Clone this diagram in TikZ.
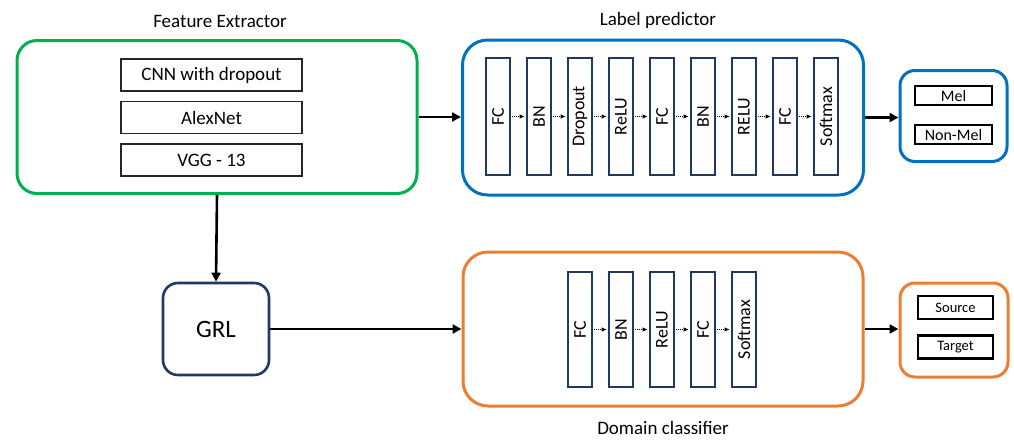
\documentclass[tikz,border=0pt]{standalone}
\usepackage{fontspec}
\setmainfont{Carlito}
\usetikzlibrary{arrows.meta}
\definecolor{fegreen}{HTML}{00B050}
\definecolor{lpblue}{HTML}{0070C0}
\definecolor{dcorange}{HTML}{ED7D31}
\definecolor{navy}{HTML}{203864}
\tikzset{
  outerbox/.style={draw, line width=3pt, rounded corners=20pt, fill=white},
  modelbox/.style={draw=black!85, line width=1.5pt, minimum width=181pt, minimum height=32pt, inner sep=0pt, font=\fontsize{19}{22}\selectfont},
  layerbox/.style={draw=navy, line width=2.6pt, rotate=90, inner sep=0pt, font=\fontsize{18}{21}\selectfont},
  classbox/.style={draw=black, line width=2.8pt, inner sep=0pt, font=\fontsize{14.5}{17}\selectfont},
  title/.style={font=\fontsize{19}{22}\selectfont, inner sep=0pt},
  mainarrow/.style={line width=2.6pt, -{Triangle[length=9pt,width=9pt]}},
  dotarrow/.style={line width=0.9pt, densely dotted, -{Latex[length=5pt,width=4.5pt]}, shorten >=1pt, shorten <=1pt}
}
\begin{document}
\begin{tikzpicture}[x=1pt,y=-1pt]
\useasboundingbox (0,0) rectangle (1014,439);

% titles
\node[title] (tfe) at (220,21) {Feature Extractor};
\node[title] (tlp) at (658,20) {Label predictor};
\node[title] (tdc) at (663,428) {Domain classifier};

% Feature extractor
\node[outerbox, draw=fegreen, minimum width=400pt, minimum height=153pt] (fe) at (217,117) {};
\node[modelbox] (m1) at (211.5,75) {CNN with dropout};
\node[modelbox] (m2) at (211.5,117.5) {AlexNet};
\node[modelbox] (m3) at (211.5,160) {VGG - 13};

% Label predictor
\node[outerbox, draw=lpblue, rounded corners=25pt, minimum width=401pt, minimum height=155pt] (lp) at (663,117.5) {};
\foreach \i/\x/\t in {1/498/FC,2/539/BN,3/580/Dropout,4/621/ReLU,5/662/FC,6/703/BN,7/744/RELU,8/785/FC,9/826/Softmax}{
  \node[layerbox, minimum width=117pt, minimum height=24pt] (p\i) at (\x,116.5) {\t};
}
\foreach \a/\b in {1/2,2/3,3/4,4/5,5/6,6/7,7/8,8/9}{
  \draw[dotarrow] (p\a.south) -- (p\b.north);
}

% Label outputs
\node[outerbox, draw=lpblue, rounded corners=15pt, minimum width=107pt, minimum height=91pt] (lo) at (953.5,116) {};
\node[classbox, font=\fontsize{16}{19}\selectfont, minimum width=77pt, minimum height=19pt] (mel) at (953.5,95.5) {Mel};
\node[classbox, font=\fontsize{16}{19}\selectfont, minimum width=77pt, minimum height=19pt] (nmel) at (953.5,134.5) {Non-Mel};

% GRL
\node[draw=navy, line width=2.6pt, rounded corners=15pt, minimum width=106pt, minimum height=92pt, font=\fontsize{25}{28}\selectfont] (grl) at (216,329) {GRL};

% Domain classifier
\node[outerbox, draw=dcorange, rounded corners=25pt, minimum width=400pt, minimum height=154pt] (dc) at (663,329) {};
\foreach \i/\x/\t in {1/580/FC,2/621/BN,3/662/ReLU,4/703/FC,5/744/Softmax}{
  \node[layerbox, minimum width=115pt, minimum height=24pt] (d\i) at (\x,329.5) {\t};
}
\foreach \a/\b in {1/2,2/3,3/4,4/5}{
  \draw[dotarrow] (d\a.south) -- (d\b.north);
}

% Domain outputs
\node[outerbox, draw=dcorange, rounded corners=15pt, minimum width=108pt, minimum height=94pt] (do) at (954,330) {};
\node[classbox, minimum width=75pt, minimum height=23pt] (src) at (955.5,307.5) {Source};
\node[classbox, minimum width=75pt, minimum height=23pt] (tgt) at (955.5,347) {Target};

% main arrows
\draw[mainarrow] (fe.east) -- (fe.east -| lp.west);
\draw[mainarrow] (lp.east) -- (lp.east -| lo.west);
\draw[mainarrow] (fe.south) -- (grl.north);
\draw[mainarrow] (grl.east) -- (grl.east -| dc.west);
\draw[mainarrow] (dc.east) -- (dc.east -| do.west);
\end{tikzpicture}
\end{document}
